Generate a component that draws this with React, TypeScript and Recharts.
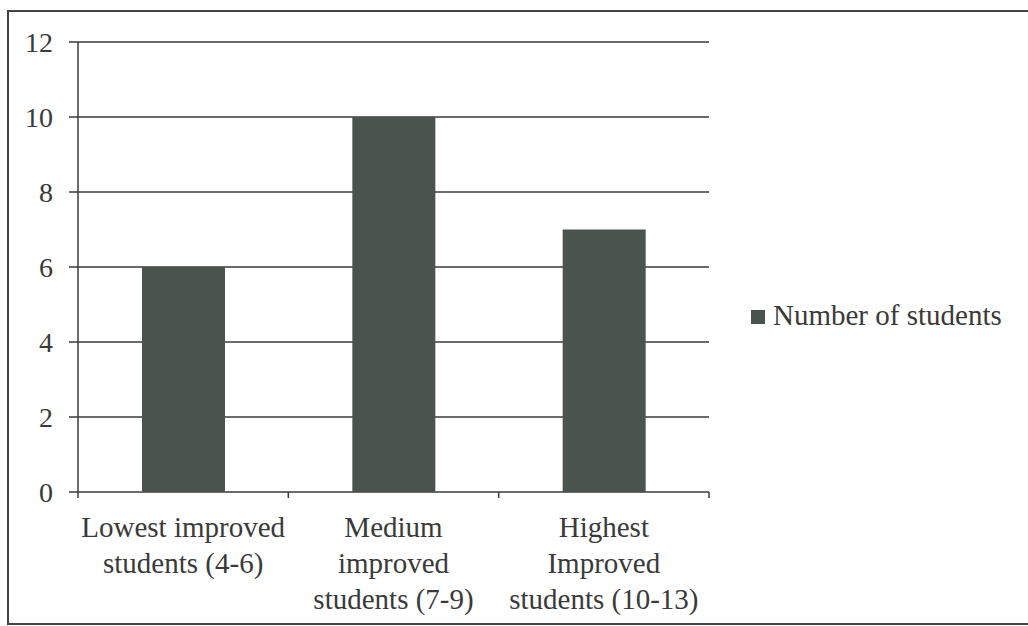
import React from 'react';
import { BarChart, Bar, XAxis, YAxis, CartesianGrid, Legend } from 'recharts';

const categories = [
  'Lowest improved students (4-6)',
  'Medium improved students (7-9)',
  'Highest Improved students (10-13)',
];
const categoryLines = [
  ['Lowest improved', 'students (4-6)'],
  ['Medium', 'improved', 'students (7-9)'],
  ['Highest', 'Improved', 'students (10-13)'],
];
const studentCounts = [6, 10, 7];
const yTicks = [0, 2, 4, 6, 8, 10, 12];
const seriesName = 'Number of students';

const data = categories.map((c, i) => ({ category: c, value: studentCounts[i] }));

const FONT = 'Liberation Serif';
const INK = '#3a3a3a';
const BAR = '#4b534f';

const CategoryTick = (props: any) => {
  const { x, y, index, width, visibleTicksCount } = props;
  const lines = categoryLines[index] || [];
  const count = visibleTicksCount || categories.length;
  const half = width / count / 2;
  const last = index === count - 1;
  return (
    <g>
      <line x1={x - half} y1={y} x2={x - half} y2={y + 6} stroke={INK} strokeWidth={1.5} />
      {last && <line x1={x + half} y1={y} x2={x + half} y2={y + 6} stroke={INK} strokeWidth={1.5} />}
      {lines.map((l: string, i: number) => (
        <text
          key={i}
          x={x}
          y={y + 45 + i * 36}
          textAnchor="middle"
          style={{ fontFamily: FONT, fontSize: 29 }}
          fill={INK}
        >
          {l}
        </text>
      ))}
    </g>
  );
};

const LegendContent = () => (
  <div style={{ display: 'flex', alignItems: 'center', fontFamily: FONT, fontSize: 29, color: INK, lineHeight: '34px' }}>
    <span style={{ display: 'inline-block', width: 14, height: 14, background: BAR, marginRight: 8, marginTop: 4 }} />
    <span>{seriesName}</span>
  </div>
);

export default function App() {
  return (
    <div style={{ position: 'absolute', left: 0, top: 0, width: 1028, height: 626, background: '#fff' }}>
      <div
        style={{
          position: 'absolute',
          left: 7,
          top: 10,
          width: 1030,
          height: 611,
          borderLeft: '2px solid #444',
          borderTop: '2px solid #444',
          borderBottom: '2px solid #444',
        }}
      />
      <div style={{ position: 'absolute', left: 0, top: 0 }}>
        <BarChart
          width={1028}
          height={626}
          data={data}
          margin={{ top: 42, right: 49, bottom: 0, left: 0 }}
          barSize={83}
        >
          <CartesianGrid vertical={false} stroke={INK} strokeWidth={1.5} />
          <XAxis
            dataKey="category"
            tickLine={false}
            tickSize={0}
            tickMargin={0}
            axisLine={false}
            tick={<CategoryTick />}
            interval={0}
            height={134}
          />
          <YAxis
            domain={[0, 12]}
            ticks={yTicks}
            tickSize={9}
            tickMargin={16}
            width={78}
            axisLine={{ stroke: INK, strokeWidth: 1.5 }}
            tickLine={{ stroke: INK, strokeWidth: 1.5 }}
            tick={{ fontFamily: FONT, fontSize: 28, fill: INK }}
          />
          <Legend
            layout="vertical"
            align="right"
            verticalAlign="middle"
            content={<LegendContent />}
            wrapperStyle={{ position: 'absolute', left: 751, top: 298, width: 270 }}
          />
          <Bar dataKey="value" name={seriesName} fill={BAR} isAnimationActive={false} />
        </BarChart>
      </div>
    </div>
  );
}
